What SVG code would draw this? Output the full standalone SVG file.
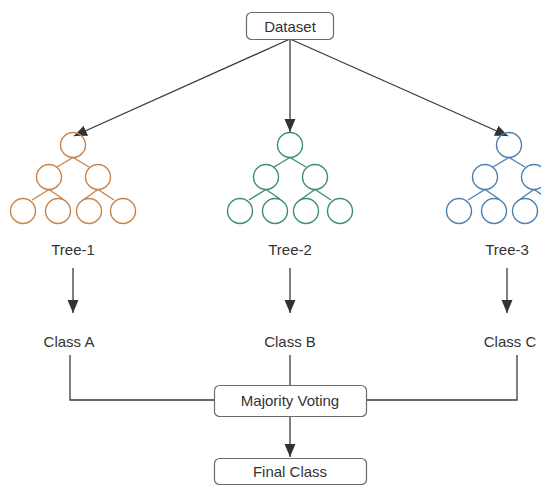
<svg xmlns="http://www.w3.org/2000/svg" width="541" height="486" viewBox="0 0 541 486">
<style>
.box{fill:#fff;stroke:#6b6b6b;stroke-width:1.2}
.lbl{font-family:"Liberation Sans",Arial,sans-serif;font-size:15px;fill:#333;text-anchor:middle;dominant-baseline:central}
.con{fill:none;stroke:#3a3a3a;stroke-width:1.3}
.tree{fill:none;stroke-width:1.4}
</style>
<defs>
<marker id="ah" markerUnits="userSpaceOnUse" markerWidth="14" markerHeight="12" refX="13" refY="6" orient="auto">
<path d="M0,0.5 L13,6 L0,11.5 Z" fill="#333"/>
</marker>
<g id="treeShape" fill="none">
<circle cx="0" cy="0" r="12.5"/>
<circle cx="-24" cy="32" r="12.5"/>
<circle cx="25" cy="32" r="12.5"/>
<circle cx="-50" cy="66" r="12.5"/>
<circle cx="-15" cy="66" r="12.5"/>
<circle cx="16" cy="66" r="12.5"/>
<circle cx="50" cy="66" r="12.5"/>
<line x1="0" y1="12.5" x2="-16" y2="22"/>
<line x1="0" y1="12.5" x2="16" y2="22"/>
<line x1="-24" y1="44.5" x2="-41" y2="55"/>
<line x1="-24" y1="44.5" x2="-10" y2="54"/>
<line x1="25" y1="44.5" x2="10" y2="55"/>
<line x1="25" y1="44.5" x2="41" y2="55"/>
</g>
</defs>

<g id="connectors">
<line class="con" x1="290" y1="39" x2="74" y2="136" marker-end="url(#ah)"/>
<line class="con" x1="290" y1="39" x2="290" y2="132" marker-end="url(#ah)"/>
<line class="con" x1="290" y1="39" x2="508" y2="136" marker-end="url(#ah)"/>
<line class="con" x1="73" y1="268" x2="73" y2="313" marker-end="url(#ah)"/>
<line class="con" x1="290" y1="268" x2="290" y2="313" marker-end="url(#ah)"/>
<line class="con" x1="507" y1="268" x2="507" y2="313" marker-end="url(#ah)"/>
<polyline class="con" points="70,355 70,400 214,400"/>
<polyline class="con" points="517,355 517,400 367,400"/>
<line class="con" x1="290" y1="355" x2="290" y2="385"/>
<line class="con" x1="290" y1="417" x2="290" y2="457" marker-end="url(#ah)"/>
</g>

<g id="dataset">
<rect class="box" x="246.5" y="12.5" width="87" height="27" rx="5"/>
<text class="lbl" x="290" y="26">Dataset</text>
</g>

<g id="tree-1">
<use href="#treeShape" x="73" y="145" stroke="#c8834a" stroke-width="1.4"/>
<text class="lbl" x="73" y="249">Tree-1</text>
</g>
<g id="tree-2">
<use href="#treeShape" x="290" y="145" stroke="#3d8e78" stroke-width="1.4"/>
<text class="lbl" x="290" y="249">Tree-2</text>
</g>
<g id="tree-3">
<use href="#treeShape" x="509" y="145" stroke="#4f80ad" stroke-width="1.4"/>
<text class="lbl" x="507" y="249">Tree-3</text>
</g>

<g id="class-a"><text class="lbl" x="69" y="341">Class A</text></g>
<g id="class-b"><text class="lbl" x="290" y="341">Class B</text></g>
<g id="class-c"><text class="lbl" x="510" y="341">Class C</text></g>

<g id="majority-voting">
<rect class="box" x="214.5" y="385.5" width="152" height="31" rx="5"/>
<text class="lbl" x="290" y="400">Majority Voting</text>
</g>

<g id="final-class">
<rect class="box" x="214.5" y="458.5" width="152" height="26" rx="5"/>
<text class="lbl" x="290" y="471">Final Class</text>
</g>
</svg>
